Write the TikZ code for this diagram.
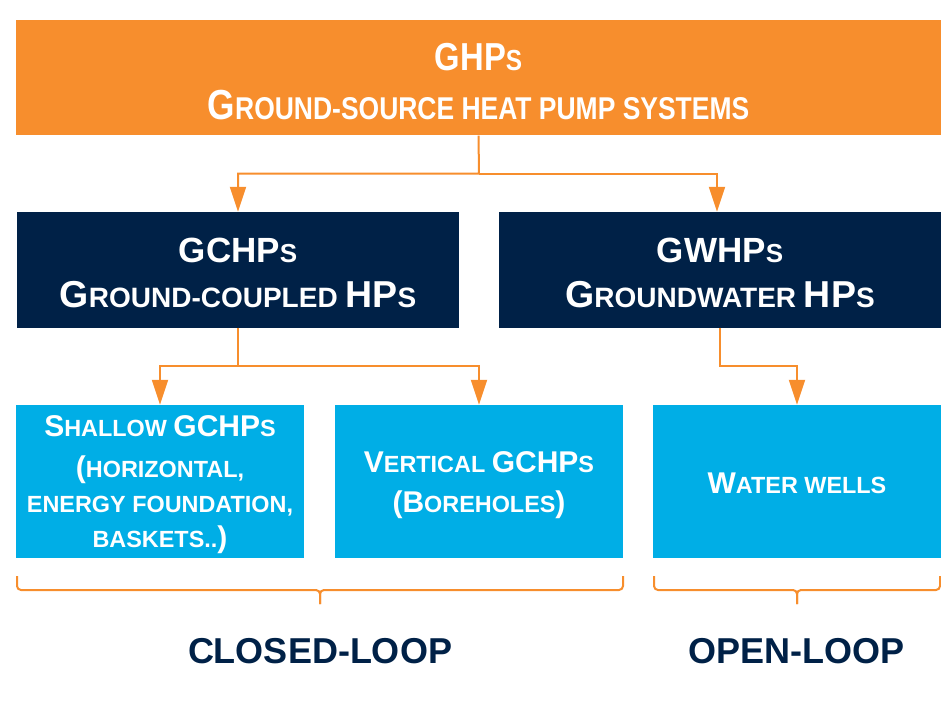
\documentclass[tikz,border=0pt]{standalone}
\usepackage{fontspec}
\setmainfont{Liberation Sans}
\newfontfamily\narrowfont{Liberation Sans}[FakeStretch=0.84]
\usetikzlibrary{arrows.meta}
\definecolor{ghporange}{RGB}{247,142,45}
\definecolor{ghpnavy}{RGB}{0,33,71}
\definecolor{ghpblue}{RGB}{0,174,230}
\newcommand\sz[1]{\fontsize{#1}{#1}\selectfont}
\newcommand\topstrut[1]{\rule{0pt}{#1}}
\begin{document}
\begin{tikzpicture}[x=1pt,y=-1pt,
  box/.style={rectangle, inner sep=0pt, text=white, align=center},
  topbox/.style={box, fill=ghporange, minimum width=925pt, minimum height=115.5pt,
    font=\narrowfont\bfseries\fontsize{39}{49}\selectfont},
  midbox/.style={box, fill=ghpnavy, minimum width=442pt, minimum height=115.5pt,
    font=\bfseries\fontsize{35}{45}\selectfont},
  leafbox/.style={box, fill=ghpblue, minimum width=288pt, minimum height=153pt,
    font=\bfseries\fontsize{30}{35}\selectfont},
  conn/.style={draw=ghporange, line width=2pt, -{Triangle[length=25pt,width=16pt]}},
  bracepath/.style={draw=ghporange, line width=2pt, rounded corners=4pt},
  looplabel/.style={text=ghpnavy, inner sep=0pt, font=\bfseries\fontsize{36}{40}\selectfont}]
\useasboundingbox (0,0) rectangle (941,703);

% boxes
\node[topbox] (top) at (478.5,77.75)
  {\topstrut{34pt}GHP{\sz{29}S}\\{\sz{42}G{\sz{31.5}ROUND-SOURCE HEAT PUMP SYSTEMS}}};
\node[midbox] (gchp) at (238,269.75)
  {\topstrut{30.5pt}GCHP{\sz{26}S}\\{\sz{37.5}G{\sz{28}ROUND-COUPLED }HP{\sz{28}S}}};
\node[midbox] (gwhp) at (720,269.75)
  {\topstrut{30.5pt}GWHP{\sz{26}S}\\{\sz{37.5}G{\sz{28}ROUNDWATER }HP{\sz{28}S}}};
\node[leafbox] (shallow) at (160,481.5)
  {\topstrut{27.5pt}S{\sz{23.4}HALLOW }GCHP{\sz{23.4}S}\\[6pt]
   ({\sz{23.4}HORIZONTAL,}\\
   {\sz{23.4}ENERGY FOUNDATION,}\\
   {\sz{23.4}BASKETS..})};
\node[leafbox] (vertical) at (479,481.5)
  {\topstrut{27.5pt}V{\sz{23.4}ERTICAL }GCHP{\sz{23.4}S}\\[5pt]
   (B{\sz{23.4}OREHOLES})};
\node[leafbox] (water) at (797,481.5)
  {\topstrut{24pt}W{\sz{23.4}ATER WELLS}};

% connectors
\coordinate (j1) at (479,173.7);
\coordinate (j2) at (238,366);
\coordinate (j3) at (720,366);
\draw[conn] (top.south) -- (j1) -| (gchp.north);
\draw[conn] (j1) -| ([xshift=-3pt]gwhp.north);
\draw[conn] (gchp.south) -- (j2) -| (shallow.north);
\draw[conn] (j2) -| (vertical.north);
\draw[conn] (gwhp.south) -- (j3) -| (water.north);

% braces
\coordinate (cl) at (320,604);
\coordinate (ol) at (797,604);
\draw[bracepath] (17,576) -- (17,590) -- (320,590) -- (cl);
\draw[bracepath] (623,576) -- (623,590) -- (320,590) -- (cl);
\draw[bracepath] (654,576) -- (654,590) -- (797,590) -- (ol);
\draw[bracepath] (940,576) -- (940,590) -- (797,590) -- (ol);

\node[looplabel] (closed) at (320,651) {CLOSED-LOOP};
\node[looplabel] (open) at (796,651) {OPEN-LOOP};
\end{tikzpicture}
\end{document}
